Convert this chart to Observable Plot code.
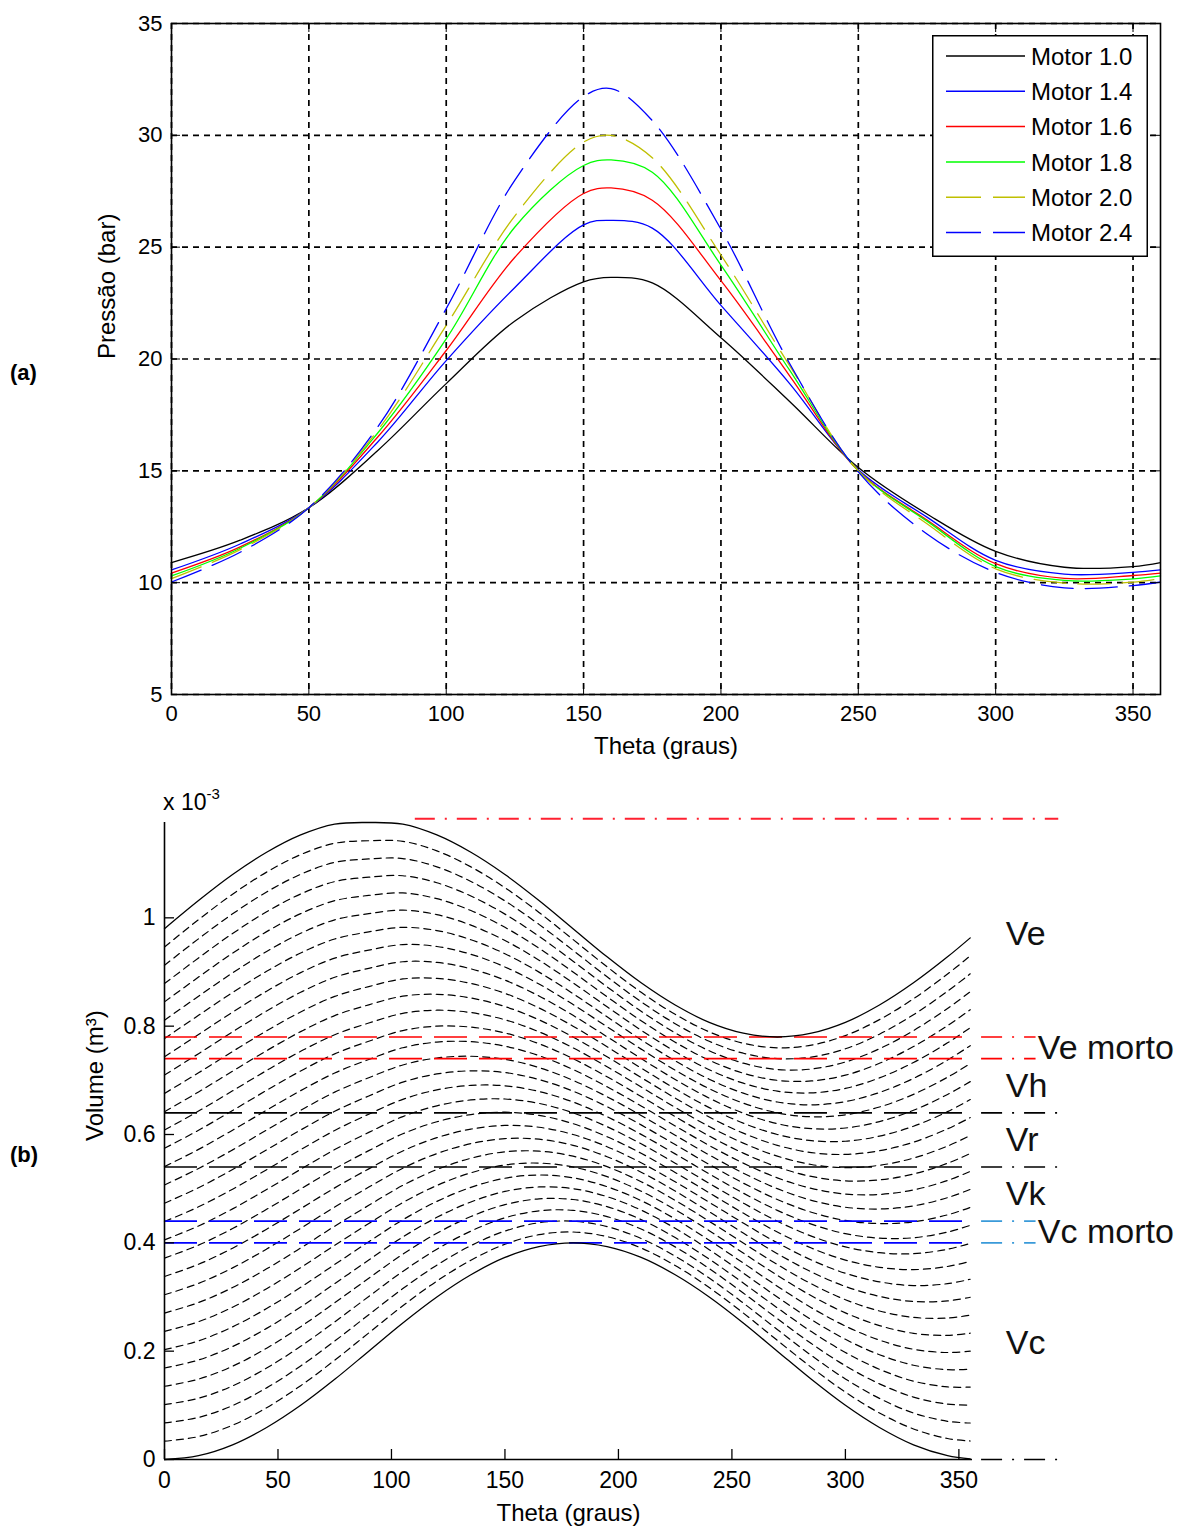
<!DOCTYPE html>
<html><head><meta charset="utf-8">
<script src="https://cdn.jsdelivr.net/npm/d3@7"></script>
<script src="https://cdn.jsdelivr.net/npm/@observablehq/plot@0.6"></script>
<style>
body{margin:0;background:#fff;}
#wrap{position:relative;width:1181px;height:1526px;overflow:hidden;font-family:Arial,"Liberation Sans",sans-serif;background:#fff;}
#wrap > svg{display:block}
.tag{position:absolute;font-weight:bold;font-size:22px;color:#000;line-height:1;}
</style></head><body><div id="wrap"></div>
<script>
// ---------- (a) Pressure data ----------
const motors = ["Motor 1.0","Motor 1.4","Motor 1.6","Motor 1.8","Motor 2.0","Motor 2.4"];
const thetaP = [0,25,50,75,100,125,150,160,175,200,225,250,275,300,325,350,360];
const p10 = [10.9,11.9,13.35,15.9,18.9,21.7,23.45,23.65,23.4,20.95,18.1,15.15,13.07,11.4,10.69,10.72,10.9];
const p14 = [10.57,11.73,13.35,16.28,19.93,23.2,26.0,26.2,25.85,22.4,18.9,15.05,12.93,11.0,10.38,10.46,10.57];
const p16 = [10.43,11.6,13.35,16.5,20.38,24.55,27.4,27.65,27.1,23.5,19.25,15.0,12.8,10.85,10.19,10.32,10.43];
const p18 = [10.3,11.54,13.35,16.68,20.9,25.9,28.65,28.9,28.35,24.2,19.5,15.0,12.75,10.72,10.1,10.17,10.3];
const p20 = [10.18,11.48,13.35,16.8,21.5,26.4,29.7,30.0,29.0,24.65,19.7,15.0,12.63,10.62,9.98,10.02,10.18];
const p24 = [10.03,11.36,13.35,16.95,22.25,28.0,31.73,32.09,30.66,25.8,19.8,14.95,12.18,10.46,9.77,9.87,10.03];
const thetaTicksA = [0,50,100,150,200,250,300,350];
const pTicks = [5,10,15,20,25,30,35];

// ---------- (b) Volume data (x 10^-3 m^3) ----------
const thetaV = [0,15,30,45,60,75,90,105,120,135,150,165,180,195,210,225,240,255,270,285,300,315,330,345,355];
const vComp = [0,0.007,0.027,0.059,0.100,0.148,0.200,0.252,0.300,0.341,0.373,0.393,0.400,0.393,0.373,0.341,0.300,0.252,0.200,0.148,0.100,0.059,0.027,0.007,0.001];
const vTotal = [0.980,1.032,1.080,1.121,1.153,1.173,1.176,1.173,1.153,1.121,1.080,1.032,0.980,0.928,0.880,0.839,0.807,0.787,0.780,0.787,0.807,0.839,0.880,0.928,0.963];
const meshDivisions = 29;
const levelValues = [0.40,0.44,0.54,0.64,0.74,0.78];
const levelKinds = ["c","c","k","k","e","e"];
const vTopLine = 1.183;
const regionNames = ["Ve","Ve morto","Vh","Vr","Vk","Vc morto","Vc"];
const regionValues = [0.97,0.76,0.69,0.59,0.49,0.42,0.215];
const thetaTicksB = [0,50,100,150,200,250,300,350];
const vTicks = [0,0.2,0.4,0.6,0.8,1];

const fam = "Arial, 'Liberation Sans', sans-serif";
const wrap = document.getElementById("wrap");

// ---------- Chart (a) ----------
const WA = 1181, HA = 775, mlA = 171, mrA = 21, mtA = 23, mbA = 81;
const pwA = WA - mlA - mrA, phA = HA - mtA - mbA;
const seriesA = [p10,p14,p16,p18,p20,p24];
const colorsA = ["#000000","#0000ff","#ff0000","#00ff00","#bfbf00","#0000ff"];
const dashA = [null,null,null,null,"32,12","32,12"];
const rowsA = [];
seriesA.forEach((s,i) => s.forEach((p,j) => rowsA.push({motor: motors[i], theta: thetaP[j], p})));

const lineMarksA = motors.map((m,i) => Plot.line(rowsA.filter(r => r.motor === m), {
  x: "theta", y: "p", stroke: colorsA[i], strokeWidth: 1.3,
  strokeDasharray: dashA[i] || undefined, curve: "catmull-rom"
}));

const chartA = Plot.plot({
  width: WA, height: HA, marginLeft: mlA, marginRight: mrA, marginTop: mtA, marginBottom: mbA,
  style: {fontFamily: fam, fontSize: "22px", color: "#000", background: "#fff", overflow: "visible"},
  x: {domain: [0,360]},
  y: {domain: [5,35]},
  marks: [
    Plot.gridX(thetaTicksA, {stroke: "#000", strokeOpacity: 1, strokeDasharray: "6,5", strokeWidth: 1.7}),
    Plot.gridY(pTicks, {stroke: "#000", strokeOpacity: 1, strokeDasharray: "6,5", strokeWidth: 1.7}),
    ...lineMarksA,
    Plot.frame({stroke: "#000", strokeWidth: 1.6}),
    Plot.tickX(thetaTicksA, {x: d => d, insetTop: phA - 9, stroke: "#000"}),
    Plot.tickX(thetaTicksA, {x: d => d, insetBottom: phA - 9, stroke: "#000"}),
    Plot.tickY(pTicks, {y: d => d, insetRight: pwA - 9, stroke: "#000"}),
    Plot.tickY(pTicks, {y: d => d, insetLeft: pwA - 9, stroke: "#000"}),
    Plot.axisX({ticks: thetaTicksA, tickSize: 0, tickPadding: 11, fontSize: 22, label: null}),
    Plot.axisY({ticks: pTicks, tickSize: 0, tickPadding: 9, fontSize: 22, label: null}),
    Plot.text(["Theta (graus)"], {text: d => d, frameAnchor: "bottom", dy: 59, fontSize: 24}),
    Plot.text(["Pressão (bar)"], {text: d => d, frameAnchor: "left", dx: -64, rotate: -90, fontSize: 24})
  ]
});
wrap.appendChild(chartA);

// legend for (a)
const leg = d3.create("svg").attr("width", 216).attr("height", 222)
  .style("position","absolute").style("left","932px").style("top","35px");
leg.append("rect").attr("x",0.75).attr("y",0.75).attr("width",214.5).attr("height",220.5)
  .attr("fill","#fff").attr("stroke","#000").attr("stroke-width",1.5);
motors.forEach((m,i) => {
  const y = 21 + 35.3*i;
  leg.append("line").attr("x1",14).attr("x2",93).attr("y1",y).attr("y2",y)
    .attr("stroke",colorsA[i]).attr("stroke-width",1.5)
    .attr("stroke-dasharray", dashA[i] ? "35,12" : null);
  leg.append("text").attr("x",99).attr("y",y).attr("dy","0.36em")
    .attr("font-family",fam).attr("font-size",24).attr("fill","#000").text(m);
});
wrap.appendChild(leg.node());

// ---------- Chart (b) ----------
const WB = 1181, HB = 751, mlB = 164, mrB = 209, mtB = 47, mbB = 67;
const pwB = WB - mlB - mrB, phB = HB - mtB - mbB;
const meshRows = [];
for (let k = 1; k < meshDivisions; k++) {
  thetaV.forEach((t,j) => meshRows.push({k, theta: t, v: vComp[j] + (vTotal[j]-vComp[j])*k/meshDivisions}));
}
const solidRows = [];
thetaV.forEach((t,j) => { solidRows.push({s:"c", theta:t, v:vComp[j]}); solidRows.push({s:"t", theta:t, v:vTotal[j]}); });

const kindColor = {c: "#0000ff", k: "#000000", e: "#ff0000"};
const extColor = {c: "#3a9ad9", k: "#000000", e: "#ff0000"};
const extEnd = {c: 384, k: 394, e: 384};
const levelRows = levelValues.map((v,i) => ({v, kind: levelKinds[i]}));
const labelRows = regionNames.map((n,i) => ({name: n, v: regionValues[i], morto: n.includes("morto")}));

const chartB = Plot.plot({
  width: WB, height: HB, marginLeft: mlB, marginRight: mrB, marginTop: mtB, marginBottom: mbB,
  style: {fontFamily: fam, fontSize: "22px", color: "#000", background: "#fff", overflow: "visible"},
  x: {domain: [0,356]},
  y: {domain: [0,1.176]},
  marks: [
    Plot.line(meshRows, {x: "theta", y: "v", z: "k", stroke: "#000", strokeWidth: 1.2, strokeDasharray: "7,5", curve: "catmull-rom"}),
    Plot.ruleY(levelRows, {y: "v", x1: 0, x2: 356, stroke: d => kindColor[d.kind], strokeWidth: 1.7, strokeDasharray: "33,12"}),
    Plot.ruleY(levelRows, {y: "v", x1: 360, x2: d => extEnd[d.kind], stroke: d => extColor[d.kind], strokeWidth: 1.7, strokeDasharray: "21,10,2,10"}),
    Plot.ruleY([0], {x1: 360, x2: 394, stroke: "#000", strokeWidth: 1.7, strokeDasharray: "21,10,2,10"}),
    Plot.ruleY([vTopLine], {x1: 110.5, x2: 394, stroke: "#ff2030", strokeWidth: 2, strokeDasharray: "20,10,2,10"}),
    Plot.line(solidRows, {x: "theta", y: "v", z: "s", stroke: "#000", strokeWidth: 1.3, curve: "catmull-rom"}),
    Plot.ruleX([0], {stroke: "#000", strokeWidth: 1.6}),
    Plot.ruleY([0], {stroke: "#000", strokeWidth: 1.6}),
    Plot.tickX(thetaTicksB, {x: d => d, insetTop: phB - 10, stroke: "#000", strokeWidth: 1.3}),
    Plot.tickY(vTicks, {y: d => d, insetRight: pwB - 10, stroke: "#000", strokeWidth: 1.3}),
    Plot.axisX({ticks: thetaTicksB, tickSize: 0, tickPadding: 12, fontSize: 23, label: null}),
    Plot.axisY({ticks: vTicks, tickSize: 0, tickPadding: 9, fontSize: 23, label: null,
      tickFormat: d => String(Math.round(d*10)/10)}),
    Plot.text(labelRows, {x: d => d.morto ? 384.8 : 370.7, y: "v", text: "name", textAnchor: "start", fontSize: 34, fill: "#111"}),
    Plot.text(["Theta (graus)"], {text: d => d, frameAnchor: "bottom", dy: 61, fontSize: 24}),
    Plot.text(["Volume (m³)"], {text: d => d, frameAnchor: "left", dx: -69, rotate: -90, fontSize: 24})
  ]
});
wrap.appendChild(chartB);

// annotations
const exp = document.createElement("div");
exp.style.cssText = "position:absolute;left:163px;top:791px;font-size:23px;line-height:1;color:#000;white-space:nowrap;";
exp.innerHTML = "x 10<span style=\"font-size:15px;position:relative;top:-11px;\">-3</span>";
wrap.appendChild(exp);
const ta = document.createElement("div"); ta.className = "tag"; ta.style.left = "10px"; ta.style.top = "362px"; ta.textContent = "(a)"; wrap.appendChild(ta);
const tb = document.createElement("div"); tb.className = "tag"; tb.style.left = "10px"; tb.style.top = "1144px"; tb.textContent = "(b)"; wrap.appendChild(tb);
</script></body></html>
